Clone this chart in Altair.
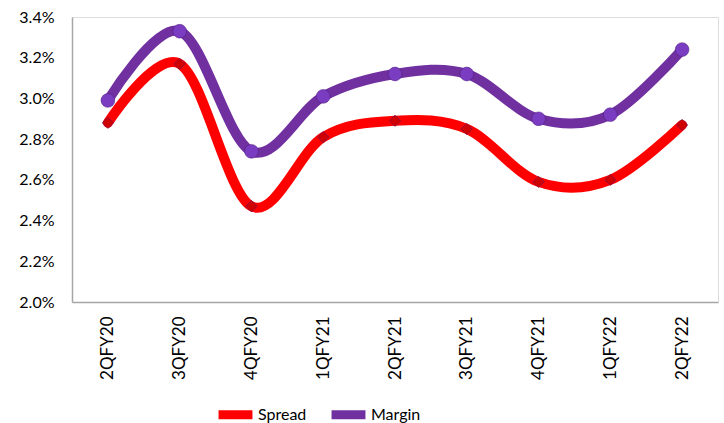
import altair as alt
import pandas as pd

quarters = ["2QFY20", "3QFY20", "4QFY20", "1QFY21", "2QFY21", "3QFY21", "4QFY21", "1QFY22", "2QFY22"]
spread = [2.88, 3.17, 2.47, 2.81, 2.89, 2.85, 2.59, 2.60, 2.87]
margin = [2.99, 3.33, 2.74, 3.01, 3.12, 3.12, 2.90, 2.92, 3.24]
series_names = ["Spread", "Margin"]
series_colors = ["#FF0000", "#7030A0"]

rows = []
for q, s, m in zip(quarters, spread, margin):
    rows.append({"Quarter": q, "Series": "Spread", "Value": s / 100})
    rows.append({"Quarter": q, "Series": "Margin", "Value": m / 100})
df = pd.DataFrame(rows)

FONT = "Lato"

x = alt.X("Quarter:N", sort=quarters, title=None,
          scale=alt.Scale(paddingInner=0, paddingOuter=0),
          axis=alt.Axis(labelAngle=-90, labelFontSize=17, labelFont=FONT, labelColor="#000000",
                        labelPadding=14, ticks=False, domainColor="#A6A6A6", domainWidth=1.5,
                        grid=False))
y = alt.Y("Value:Q", title=None,
          scale=alt.Scale(domain=[0.02, 0.034], nice=False, zero=False),
          axis=alt.Axis(format=".1%", values=[0.02, 0.022, 0.024, 0.026, 0.028, 0.030, 0.032, 0.034],
                        labelFontSize=16, labelFont=FONT, labelColor="#000000", labelPadding=18,
                        ticks=False, domainColor="#A6A6A6", domainWidth=1.5, grid=False))
color = alt.Color("Series:N", scale=alt.Scale(domain=series_names, range=series_colors),
                  legend=alt.Legend(orient="none", legendX=142, legendY=376, direction="horizontal",
                                    title=None, symbolType="stroke", symbolStrokeWidth=9,
                                    symbolSize=1150, labelFontSize=16, labelFont=FONT,
                                    labelColor="#000000", columnPadding=6, labelOffset=1))

lines = alt.Chart(df).mark_line(interpolate="cardinal", strokeWidth=10, strokeCap="round").encode(
    x=x, y=y, color=color)

pts = alt.Chart(df).mark_point(filled=True, opacity=1).encode(
    x=x, y=y,
    color=alt.Color("Series:N", scale=alt.Scale(domain=series_names, range=["#D00000", "#7A3CC0"]), legend=None),
    shape=alt.Shape("Series:N", scale=alt.Scale(domain=series_names, range=["diamond", "circle"]), legend=None),
    size=alt.Size("Series:N", scale=alt.Scale(domain=series_names, range=[130, 190]), legend=None),
    stroke=alt.value("#4B1A78"),
    strokeWidth=alt.value(0.5),
)

chart = alt.layer(lines, pts).resolve_scale(color="independent").properties(
    width=646, height=285,
    autosize=alt.AutoSizeParams(type="none"),
    padding={"left": 72, "top": 17, "right": 6, "bottom": 121},
).configure_view(stroke=None).configure(background="white")

chart.save("out.html", embed_options={"renderer": "svg", "actions": False})
